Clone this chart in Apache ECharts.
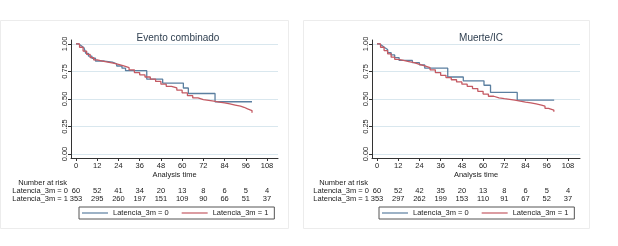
<!DOCTYPE html>
<html><head><meta charset="utf-8">
<script src="https://cdn.jsdelivr.net/npm/echarts@6/dist/echarts.min.js"></script>
<style>html,body{margin:0;padding:0;background:#fff}#c{width:618px;height:246px}</style>
</head><body><div id="c"></div>
<script>
const titles = ['Evento combinado', 'Muerte/IC'];
const seriesNames = ['Latencia_3m = 0', 'Latencia_3m = 1'];
const xTicks = [0, 12, 24, 36, 48, 60, 72, 84, 96, 108];
const yTicks = [0, 0.25, 0.5, 0.75, 1];
// Number at risk
const riskEvento0 = [60, 52, 41, 34, 20, 13, 8, 6, 5, 4];
const riskEvento1 = [353, 295, 260, 197, 151, 109, 90, 66, 51, 37];
const riskMuerte0 = [60, 52, 42, 35, 20, 13, 8, 6, 5, 4];
const riskMuerte1 = [353, 297, 262, 199, 153, 110, 91, 67, 52, 37];
// KM curves [time, survival]
const kmEvento0 = [[0,1],[1.5,0.983],[3,0.966],[4.5,0.95],[5.5,0.915],[7,0.89],[9,0.87],[11,0.845],[16,0.835],[20.5,0.82],[23,0.80],[26,0.78],[28,0.757],[40,0.68],[49,0.645],[60.7,0.60],[63.5,0.55],[78.6,0.475],[99.5,0.475]];
const kmEvento1 = [[0,1],[2,0.97],[4,0.935],[6,0.905],[8,0.875],[10,0.855],[12,0.845],[15,0.835],[18,0.825],[21,0.815],[24,0.80],[27,0.785],[30,0.765],[33,0.74],[36,0.72],[39,0.70],[42,0.68],[45,0.66],[48,0.635],[51,0.615],[54,0.60],[57,0.58],[60,0.555],[63,0.53],[66,0.51],[69,0.495],[72,0.488],[75,0.48],[78,0.472],[81,0.465],[84,0.455],[87,0.445],[90,0.435],[93,0.425],[95,0.41],[97,0.395],[99.5,0.375]];
const kmMuerte0 = [[0,1],[1.5,0.983],[3,0.966],[4.5,0.95],[6,0.92],[8,0.90],[10,0.875],[12.5,0.85],[20,0.83],[24,0.81],[27,0.78],[40,0.70],[48.8,0.665],[60.5,0.625],[64.2,0.56],[79.3,0.49],[100.2,0.49]];
const kmMuerte1 = [[0,1],[2,0.97],[4,0.94],[6,0.91],[8,0.88],[10,0.86],[12,0.85],[15,0.84],[18,0.83],[21,0.815],[24,0.80],[27,0.785],[30,0.765],[33,0.74],[36,0.715],[39,0.695],[42,0.675],[45,0.655],[48,0.635],[51,0.615],[54,0.595],[57,0.57],[60,0.545],[63,0.525],[66,0.51],[69,0.503],[72,0.497],[75,0.49],[78,0.48],[81,0.472],[84,0.465],[87,0.455],[90,0.445],[93,0.435],[95,0.415],[97,0.40],[100,0.385]];

const FONT = 'Liberation Sans, Arial, sans-serif';
const BLUE = '#5b7fa0', RED = '#c45a63', TXT = '#222';
const chart = echarts.init(document.getElementById('c'), null, {renderer: 'canvas'});

const panels = [
  {left: 71, width: 207, xmax: 114.2, risk: [riskEvento0, riskEvento1], km: [kmEvento0, kmEvento1], labX: 67, legX: 79, titleX: 173, box: [0, 288]},
  {left: 372, width: 208, xmax: 114.8, risk: [riskMuerte0, riskMuerte1], km: [kmMuerte0, kmMuerte1], labX: 368, legX: 379, titleX: 476, box: [303, 286]}
];
const grid = [], xAxis = [], yAxis = [], series = [], title = [], legend = [], graphic = [];
panels.forEach((p, i) => {
  graphic.push({type: 'rect', shape: {x: p.box[0] + 0.5, y: 20.5, width: p.box[1], height: 208}, style: {fill: 'none', stroke: '#ececec', lineWidth: 1}, z: -10});
  grid.push({left: p.left, top: 40, width: p.width, height: 118});
  title.push({text: titles[i], left: p.titleX, top: 28, textAlign: 'center', textStyle: {fontFamily: FONT, fontSize: 10, fontWeight: 'normal', color: '#2f3f50'}});
  xAxis.push({type: 'value', gridIndex: i, min: -2.83, max: p.xmax,
    name: 'Analysis time', nameLocation: 'middle', nameGap: 13, nameTextStyle: {fontFamily: FONT, fontSize: 7.5, color: TXT},
    axisLine: {show: true, onZero: false, lineStyle: {color: '#333', width: 1}},
    axisTick: {show: true, length: 3, customValues: xTicks, lineStyle: {color: '#333'}},
    axisLabel: {customValues: xTicks, fontFamily: FONT, fontSize: 7.5, color: TXT, margin: 4},
    splitLine: {show: false}});
  p.risk.forEach((r, k) => {
    xAxis.push({type: 'value', gridIndex: i, min: -2.83, max: p.xmax, position: 'bottom', offset: 29 + 8 * k,
      axisLine: {show: false}, axisTick: {show: false}, splitLine: {show: false},
      axisLabel: {customValues: xTicks, fontFamily: FONT, fontSize: 7.5, color: TXT, margin: 0,
        formatter: v => String(r[Math.round(v / 12)])}});
  });
  yAxis.push({type: 'value', gridIndex: i, min: -0.036, max: 1.036,
    axisLine: {show: true, onZero: false, lineStyle: {color: '#333', width: 1}},
    axisTick: {show: true, length: 3, customValues: yTicks, lineStyle: {color: '#333'}},
    axisLabel: {customValues: yTicks, rotate: 90, fontFamily: FONT, fontSize: 7.5, color: TXT, margin: 2, formatter: v => v.toFixed(2)},
    splitLine: {show: true, lineStyle: {color: '#d9e7ee', width: 1}}});
  const xi = i * 3;
  p.km.forEach((d, k) => {
    series.push({type: 'line', name: seriesNames[k], xAxisIndex: xi, yAxisIndex: i, data: d, step: 'end',
      symbol: 'none', lineStyle: {color: k ? RED : BLUE, width: 1.3}, itemStyle: {color: k ? RED : BLUE}, z: k ? 3 : 2});
  });
  graphic.push({type: 'text', style: {text: 'Number at risk', x: p.labX, y: 183, align: 'right', verticalAlign: 'middle', font: '7.5px ' + FONT, fill: TXT}});
  seriesNames.forEach((n, k) => {
    graphic.push({type: 'text', style: {text: n, x: p.labX + 1, y: 191 + 8 * k, align: 'right', verticalAlign: 'middle', font: '7.5px ' + FONT, fill: TXT}});
  });
  legend.push({data: seriesNames, left: p.legX, top: 207, orient: 'horizontal', icon: 'rect', itemWidth: 26, itemHeight: 1.2,
    itemGap: 13, padding: [2, 6, 2, 3], borderColor: '#555', borderWidth: 1, textStyle: {fontFamily: FONT, fontSize: 7.5, color: TXT}, selectedMode: false});
});
chart.setOption({animation: false, backgroundColor: '#fff', title, grid, xAxis, yAxis, series, legend, graphic});
</script></body></html>
